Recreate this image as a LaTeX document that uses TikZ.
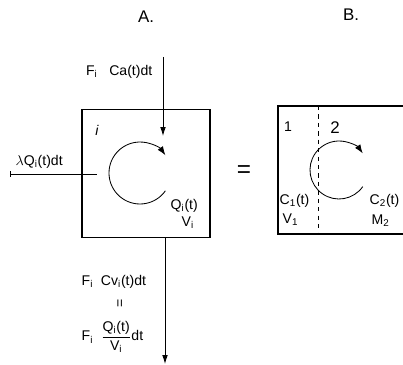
\documentclass[tikz,border=0pt]{standalone}
\usepackage{fontspec}
\setmainfont{Liberation Sans}
\usepackage{amsmath}
\usetikzlibrary{arrows.meta}

\begin{document}
\begin{tikzpicture}[
  x=0.025cm, y=-0.025cm,
  tank/.style={rectangle, draw, thick, inner sep=0pt},
  flow/.style={-{Latex[length=2.2mm,width=1.4mm]}, semithick},
  stir/.style={-{Latex[length=2.2mm,width=1.6mm]}, semithick},
  lbl/.style={font=\normalsize, inner sep=1pt}
]
\clip (0,0) rectangle (403,365);

% titles
\node[lbl, font=\large] (tA) at (146,17) {A.};
\node[lbl, font=\large] (tB) at (351,15) {B.};

% tank A
\node[tank, minimum width=3.2cm, minimum height=3.2cm] (boxA) at (146,173.5) {};
\node[lbl] (iA) at (97,130) {\itshape i};
\draw[stir] (140,173) ++(35:31) arc[start angle=35, end angle=325, radius=31];
\node[lbl, anchor=west] (QA) at (169,206) {Q\textsubscript{i}(t)};
\node[lbl, anchor=west] (VA) at (180,223) {V\textsubscript{i}};

% flows of A
\coordinate (inTop) at (163,57);
\coordinate (inEnd) at (163,136);
\draw[flow] (inTop) -- (inEnd);
\node[lbl, anchor=east] (Fin) at (154,72) {F\textsubscript{i}~~~Ca(t)dt};

\coordinate (outL) at (97,174);
\coordinate (outLEnd) at (10,174);
\draw[{Bar[width=1.4mm]}-, semithick] (outLEnd) -- (outL);
\node[lbl, anchor=west] (lam) at (14,162) {$\lambda$Q\textsubscript{i}(t)dt};

\coordinate (outB) at (165,238);
\coordinate (outBEnd) at (165,364);
\draw[flow] (outB) -- (outBEnd);
\node[lbl, anchor=west] (Fout) at (80,282) {F\textsubscript{i}~~Cv\textsubscript{i}(t)dt};
\node[lbl, rotate=90] (eqv) at (121,303) {=};
\node[lbl, anchor=west] (Fout2) at (80,337) {F\textsubscript{i}~~$\dfrac{\mbox{Q\textsubscript{i}(t)}}{\mbox{V\textsubscript{i}}}$dt};

% equals
\node[lbl, font=\LARGE] (eq) at (244,172) {=};

% tank B
\draw[thick] (430,106) -| (278,234) -- (430,234);
\draw[semithick, dashed] (318,106) -- (318,234);
\node[lbl] (n1) at (288,127) {1};
\node[lbl, font=\large] (n2) at (335,128) {2};
\draw[stir] (339,170) ++(35:29) arc[start angle=35, end angle=325, radius=29];
\node[lbl, anchor=west] (C1) at (278,201) {C\textsubscript{1}(t)};
\node[lbl, anchor=west] (V1) at (281,220) {V\textsubscript{1}};
\node[lbl, anchor=west] (C2) at (368,201) {C\textsubscript{2}(t)};
\node[lbl, anchor=west] (M2) at (370,221) {M\textsubscript{2}};
\end{tikzpicture}
\end{document}
